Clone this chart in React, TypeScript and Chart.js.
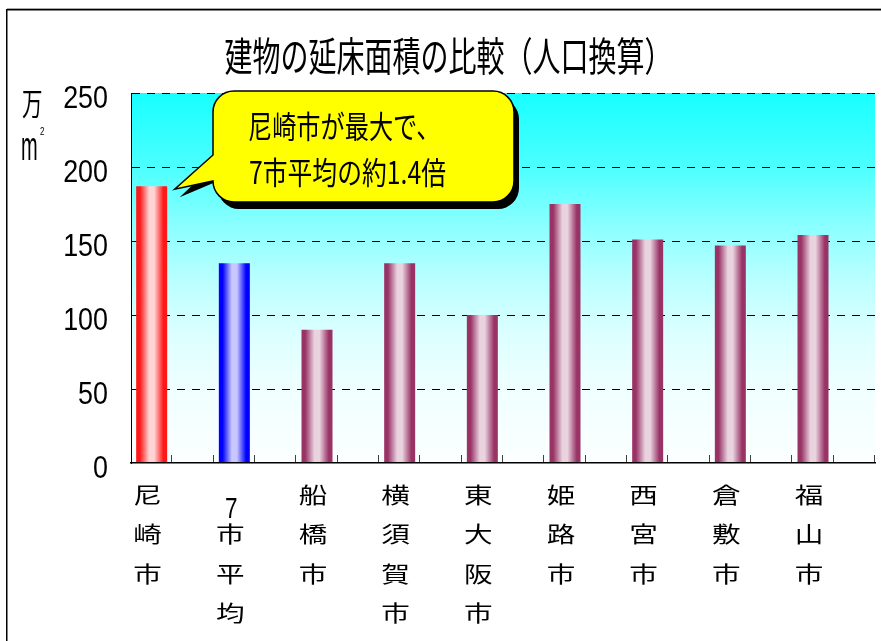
import React, { useEffect, useRef } from "react";
import { Chart, registerables } from "chart.js";

Chart.register(...registerables);

// ---- data -------------------------------------------------------------
const chartTitle = "建物の延床面積の比較（人口換算）";
const cityNames = ["尼崎市", "7市平均", "船橋市", "横須賀市", "東大阪市", "姫路市", "西宮市", "倉敷市", "福山市"];
// 延床面積（人口換算）, 単位：万㎡
const floorArea = [187, 135, 90, 135, 100, 175, 151, 147, 154];
const yTicks = [0, 50, 100, 150, 200, 250];
const unitMain = "万";
const unitSub = "m";
const unitSup = "2";
const calloutLines = ["尼崎市が最大で、", "7市平均の約1.4倍"];

// ---- styling ----------------------------------------------------------
const CJK = '"Noto Sans CJK JP", "Noto Sans CJK SC", sans-serif';
const LATIN = '"Liberation Sans", Arial, sans-serif';
const BAR_PCT = 0.75;

const barTones = [
  { edge: "#ff1818", mid: "#ffd4d4" }, // 尼崎市
  { edge: "#0000ff", mid: "#c8c8ff" }, // 7市平均
  { edge: "#993366", mid: "#e8d3df" }, // その他の市
];
const toneFor = (i: number) => barTones[Math.min(i, 2)];

// every city takes two slots: one holding its bar, one left empty
const slotLabels = cityNames.flatMap((n) => [n, ""]);
const slotValues = floorArea.flatMap((v) => [v, null]);

const isLatin = (ch: string) => /[0-9A-Za-z.]/.test(ch);

function scaledText(
  ctx: CanvasRenderingContext2D,
  text: string,
  x: number,
  y: number,
  font: string,
  sx: number,
  align: CanvasTextAlign = "left"
) {
  ctx.save();
  ctx.font = font;
  ctx.textAlign = align;
  ctx.textBaseline = "alphabetic";
  ctx.translate(x, y);
  ctx.scale(sx, 1);
  ctx.fillText(text, 0, 0);
  ctx.restore();
}

function calloutPath(
  ctx: CanvasRenderingContext2D,
  L: number,
  T: number,
  R: number,
  B: number,
  r: number,
  tipX: number,
  tipY: number,
  joinTop: number,
  joinBottom: number
) {
  ctx.beginPath();
  ctx.moveTo(L + r, T);
  ctx.lineTo(R - r, T);
  ctx.arcTo(R, T, R, T + r, r);
  ctx.lineTo(R, B - r);
  ctx.arcTo(R, B, R - r, B, r);
  ctx.lineTo(L + r, B);
  ctx.arcTo(L, B, L, B - r, r);
  ctx.lineTo(L, joinBottom);
  ctx.lineTo(tipX, tipY);
  ctx.lineTo(L, joinTop);
  ctx.lineTo(L, T + r);
  ctx.arcTo(L, T, L + r, T, r);
  ctx.closePath();
}

const decorations = {
  id: "decorations",
  beforeDraw(chart: any) {
    const { ctx, chartArea: a, width, height } = chart;
    ctx.save();
    ctx.fillStyle = "#ffffff";
    ctx.fillRect(0, 0, width, height);
    // outer frame
    ctx.fillStyle = "#a8a8a8";
    ctx.fillRect(7, 8, width - 7, 1);
    ctx.fillStyle = "#000000";
    ctx.fillRect(7, 9, width - 7, 1.5);
    ctx.fillRect(6, 9, 1.5, height - 9);
    // plot area background
    const g = ctx.createLinearGradient(0, a.top, 0, a.bottom);
    g.addColorStop(0, "#18ffff");
    g.addColorStop(0.2, "#4cffff");
    g.addColorStop(0.35, "#88ffff");
    g.addColorStop(0.5, "#b8ffff");
    g.addColorStop(0.65, "#dcffff");
    g.addColorStop(0.8, "#f0ffff");
    g.addColorStop(1, "#fcffff");
    ctx.fillStyle = g;
    ctx.fillRect(a.left, a.top, a.right - a.left, a.bottom - a.top);
    ctx.restore();
  },
  afterDatasetsDraw(chart: any) {
    const { ctx, chartArea: a } = chart;
    const xs = chart.scales.x;
    const slot = xs.width / slotLabels.length;
    // category tick marks, pointing up into the plot
    ctx.save();
    ctx.strokeStyle = "#404040";
    ctx.lineWidth = 1;
    for (let k = 1; k <= slotLabels.length; k++) {
      const x = Math.round(xs.left + k * slot) - 0.5;
      ctx.beginPath();
      ctx.moveTo(x, a.bottom - 8);
      ctx.lineTo(x, a.bottom);
      ctx.stroke();
    }
    ctx.restore();
  },
  afterDraw(chart: any) {
    const { ctx, chartArea: a, width } = chart;
    const xs = chart.scales.x;
    const ys = chart.scales.y;
    ctx.save();
    ctx.fillStyle = "#000000";

    // title
    scaledText(ctx, chartTitle, width / 2 + 8, 71, `40px ${CJK}`, 0.7, "center");

    // unit
    scaledText(ctx, unitMain, 22, 115, `31px ${CJK}`, 0.66);
    scaledText(ctx, unitSub, 21, 160, `40px ${LATIN}`, 0.5);
    scaledText(ctx, unitSup, 40, 135, `10px ${LATIN}`, 0.8);

    // value axis labels
    yTicks.forEach((v) => {
      const y = ys.getPixelForValue(v);
      scaledText(ctx, String(v), a.left - 23, y + 15, `32px ${LATIN}`, 0.84, "right");
    });

    // category labels, one character per row
    cityNames.forEach((name, i) => {
      const cx = xs.getPixelForValue(i * 2) - 4;
      Array.from(name).forEach((ch, j) => {
        const base = a.bottom + 40 + j * 39.3;
        if (isLatin(ch)) {
          scaledText(ctx, ch, cx + 1, base + 15, `30px ${LATIN}`, 0.75, "center");
        } else {
          scaledText(ctx, ch, cx, base, `22px ${CJK}`, 1.3, "center");
        }
      });
    });

    // callout pointing at the first bar
    const tipX = xs.getPixelForValue(0) + 23;
    const tipY = ys.getPixelForValue(floorArea[0]) + 3;
    const L = a.left + 82;
    const T = a.top - 2;
    const R = a.left + 383;
    const B = a.top + 109;
    const r = 21;
    calloutPath(ctx, L + 5, T + 7, R + 5, B + 7, r, tipX + 5, tipY + 8, T + 70, B - r);
    ctx.fillStyle = "#000000";
    ctx.fill();
    calloutPath(ctx, L, T, R, B, r, tipX, tipY, T + 64, B - r);
    ctx.fillStyle = "#ffff00";
    ctx.fill();
    ctx.lineWidth = 1.5;
    ctx.strokeStyle = "#000000";
    ctx.stroke();
    ctx.fillStyle = "#000000";
    scaledText(ctx, calloutLines[0], L + 35, T + 47, `31px ${CJK}`, 0.78);
    scaledText(ctx, calloutLines[1], L + 36, T + 93, `31px ${CJK}`, 0.8);

    ctx.restore();
  },
};

export default function App() {
  const canvasRef = useRef<HTMLCanvasElement | null>(null);

  useEffect(() => {
    const canvas = canvasRef.current;
    if (!canvas) return;
    const chart = new Chart(canvas, {
      type: "bar",
      data: {
        labels: slotLabels,
        datasets: [
          {
            data: slotValues as any,
            barPercentage: BAR_PCT,
            categoryPercentage: 1,
            borderWidth: 0,
            backgroundColor: (c: any) => {
              const ch = c.chart;
              const xs = ch.scales && ch.scales.x;
              if (!ch.chartArea || !xs || c.type !== "data") return "#993366";
              const tone = toneFor(Math.floor(c.dataIndex / 2));
              const x = xs.getPixelForValue(c.dataIndex);
              const half = ((xs.width / slotLabels.length) * BAR_PCT) / 2;
              const g = ch.ctx.createLinearGradient(x - half, 0, x + half, 0);
              g.addColorStop(0, tone.edge);
              g.addColorStop(0.12, tone.edge);
              g.addColorStop(0.42, tone.mid);
              g.addColorStop(0.58, tone.mid);
              g.addColorStop(0.88, tone.edge);
              g.addColorStop(1, tone.edge);
              return g;
            },
          },
        ],
      },
      options: {
        responsive: false,
        maintainAspectRatio: false,
        animation: false,
        devicePixelRatio: 1,
        layout: { padding: { top: 93, right: 6, bottom: 178, left: 131 } },
        plugins: {
          legend: { display: false },
          title: { display: false },
          tooltip: { enabled: false },
        },
        scales: {
          x: {
            offset: true,
            grid: { display: false, drawTicks: false },
            ticks: { display: false, autoSkip: false },
            border: { display: true, color: "#000000", width: 1.5, z: 1 },
            afterFit: (s: any) => {
              s.height = 0;
            },
          },
          y: {
            min: 0,
            max: 250,
            ticks: { display: false, stepSize: 50 },
            grid: {
              drawTicks: false,
              color: (c: any) => (c.tick && c.tick.value === 0 ? "rgba(0,0,0,0)" : "#000000"),
              lineWidth: 1,
            },
            border: { display: true, color: "#000000", width: 1, dash: [8, 7] },
            afterFit: (s: any) => {
              s.width = 0;
            },
          },
        },
      },
      plugins: [decorations],
    });
    return () => chart.destroy();
  }, []);

  return (
    <div style={{ position: "fixed", left: 0, top: 0, width: 881, height: 641, background: "#fff" }}>
      <canvas ref={canvasRef} width={881} height={641} />
    </div>
  );
}
